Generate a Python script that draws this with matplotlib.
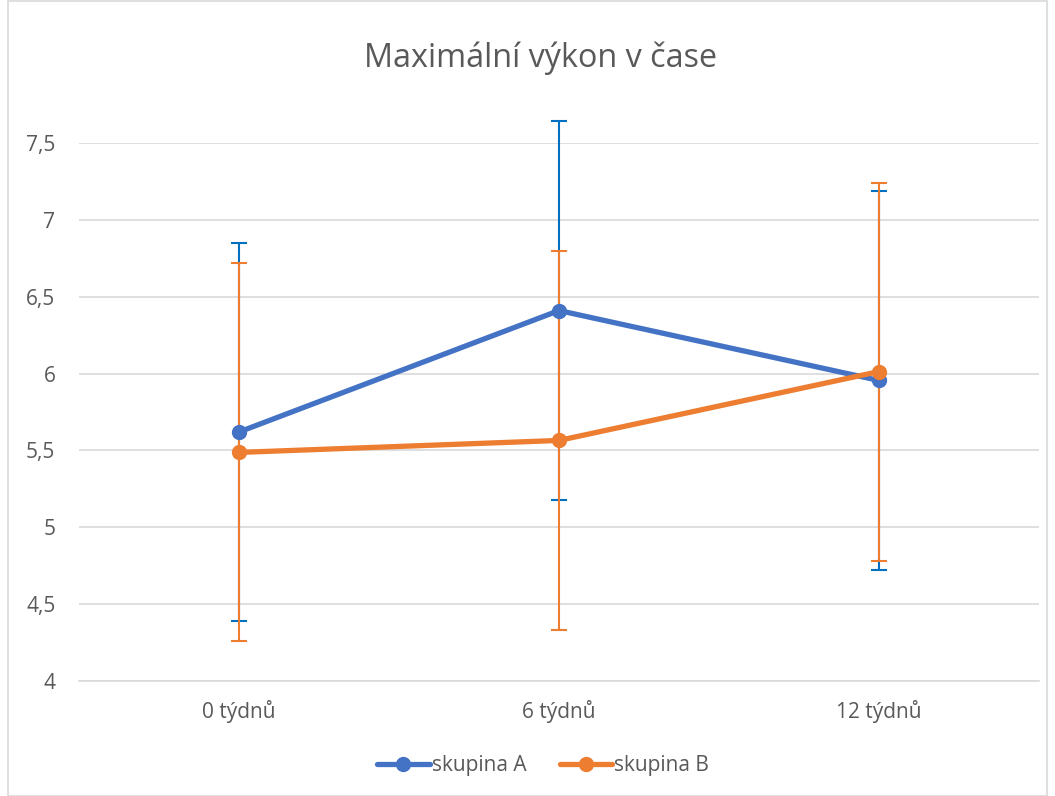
import matplotlib
matplotlib.use("Agg")
import matplotlib.pyplot as plt
from matplotlib.ticker import FuncFormatter
from matplotlib.patches import Rectangle

categories = ["0 týdnů", "6 týdnů", "12 týdnů"]
series_a = [5.62, 6.41, 5.955]
series_b = [5.487, 5.565, 6.013]
err_a = [1.23, 1.23, 1.23]
err_b = [1.23, 1.23, 1.23]
labels = ["skupina A", "skupina B"]
title = "Maximální výkon v čase"

plt.rcParams['font.family'] = ['Open Sans', 'DejaVu Sans']

fig = plt.figure(figsize=(10.55, 7.96), dpi=100)
ax = fig.add_axes([79/1055, 1-681/796, 960/1055, (681-143)/796])

x = list(range(len(categories)))

ax.errorbar(x, series_a, yerr=err_a, fmt='none', ecolor='#0070C0', elinewidth=1.5,
            capsize=6, capthick=1.5, zorder=2, clip_on=False)
ax.errorbar(x, series_b, yerr=err_b, fmt='none', ecolor='#ED7D31', elinewidth=1.5,
            capsize=6, capthick=1.5, zorder=2.1, clip_on=False)
ax.plot(x, series_a, color='#4472C4', lw=3.8, marker='o', ms=10, label=labels[0],
        zorder=3, clip_on=False, solid_capstyle='round')
ax.plot(x, series_b, color='#ED7D31', lw=3.8, marker='o', ms=10, label=labels[1],
        zorder=3.1, clip_on=False, solid_capstyle='round')

ax.set_xlim(-0.5, 2.5)
ax.set_ylim(4, 7.5)
ax.set_yticks([4, 4.5, 5, 5.5, 6, 6.5, 7, 7.5])
ax.yaxis.set_major_formatter(FuncFormatter(lambda v, p: ("%g" % v).replace('.', ',')))
ax.set_xticks(x)
ax.set_xticklabels(categories)
ax.grid(axis='y', color='#D9D9D9', lw=1.2)
ax.set_axisbelow(True)
for s in ['top', 'right', 'left']:
    ax.spines[s].set_visible(False)
ax.spines['bottom'].set_color('#D9D9D9')
ax.spines['bottom'].set_linewidth(1.2)
ax.tick_params(axis='both', length=0, labelsize=15, labelcolor='#595959')
ax.tick_params(axis='y', pad=17)
ax.tick_params(axis='x', pad=14)

fig.text(541/1055, 1-58/796, title, ha='center', va='center', fontsize=23.3, color='#595959')

leg = ax.legend(loc='center', bbox_to_anchor=(543/1055, 1-766/796), bbox_transform=fig.transFigure,
                ncol=2, frameon=False, fontsize=15, labelcolor='#595959',
                handlelength=2.5, handletextpad=0.1, columnspacing=1.6)

fig.patches.append(Rectangle((8/1055, 0), 1-16/1055, 1-1/796, transform=fig.transFigure,
                             fill=False, edgecolor='#D9D9D9', lw=1.2))

fig.savefig("out.png", dpi=100)
